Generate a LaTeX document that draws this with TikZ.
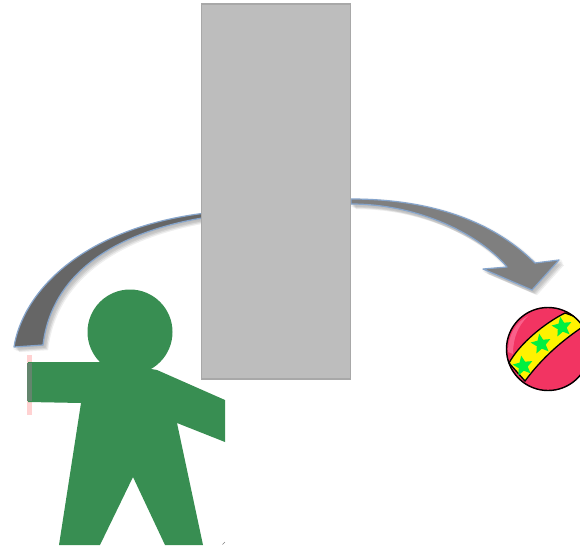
\documentclass[tikz,border=0pt]{standalone}
\usetikzlibrary{shapes.geometric}
\definecolor{green1}{HTML}{388E52}
\definecolor{rectfill}{HTML}{BDBDBD}
\definecolor{rectline}{HTML}{A8A8A8}
\definecolor{arrowL}{HTML}{666666}
\definecolor{arrowR}{HTML}{7F7F7F}
\definecolor{arrowline}{HTML}{86A5CC}
\definecolor{ballred}{HTML}{F23462}
\definecolor{ballhi}{HTML}{F9608A}
\definecolor{starg}{HTML}{00F040}
\tikzset{
  arrowedge/.style={draw=arrowline,line width=1.2pt,line join=round},
  starmark/.style={star,star points=5,star point ratio=2.2,fill=starg,draw=none,inner sep=0pt,outer sep=0pt,minimum size=21pt,rotate=10},
  softshadow/.style={fill=black,fill opacity=0.05,draw=black,draw opacity=0.03,line join=round}
}
\newcommand{\leftarc}{(14,347) .. controls (22,296) and (76,230) .. (202,213.5) -- (202,218)
  .. controls (120,232) and (52,270) .. (43,345) -- cycle}
\newcommand{\rightarc}{(351,199) .. controls (425,199) and (490,218) .. (535,263) -- (559,260) -- (532,290)
  -- (483,269) -- (507,267) .. controls (480,235) and (420,204) .. (351,204) -- cycle}
\begin{document}
\begin{tikzpicture}[x=1pt,y=-1pt]
\useasboundingbox (0,0) rectangle (580,548);
% shadows of the arcs
\foreach \d/\w in {1/4,2/3,3/2,4/1,5/0.4}{
  \begin{scope}[shift={(\d,\d)}]
    \path[softshadow,line width=\w pt] \leftarc;
    \path[softshadow,line width=\w pt] \rightarc;
  \end{scope}
}
% arcs
\path[arrowedge,fill=arrowL] \leftarc;
\path[arrowedge,fill=arrowR] \rightarc;
% tall rectangle
\node[draw=rectline,fill=rectfill,line width=1.2pt,outer sep=0pt,minimum width=149pt,minimum height=375pt,inner sep=0pt,anchor=north west] (wall) at (201.5,4) {};
% figure
\fill[pink!70!white] (27,355) rectangle (32,415);
\fill[green1] (130,332) circle (42.5);
\fill[green1] (28,362) -- (110,362) -- (157,370) -- (225,400) -- (225,442) -- (177,423)
  -- (203,545) -- (165,545) -- (133,477) -- (100,545) -- (59,545) -- (81,403) -- (28,402) -- cycle;
\fill[gray!60!green1] (27,363) rectangle (32,401);
\draw[gray,line width=0.6pt] (222.5,544.5) -- (225,542);
% ball
\begin{scope}
  \clip (548,349) circle (42);
  \fill[ballred] (506,307) rectangle (590,391);
  \fill[ballhi] (508,352) .. controls (508,335) and (516,322) .. (528,316) .. controls (518,326) and (513,338) .. (513,354) -- cycle;
  \path[fill=yellow,draw=black,line width=1.3pt]
    (509,363) .. controls (520,343) and (545,323) .. (565,313) -- (590,322)
    .. controls (562,340) and (542,358) .. (525,381) -- cycle;
\end{scope}
\node[starmark] (s1) at (523,366) {};
\node[starmark] (s2) at (541,344) {};
\node[starmark] (s3) at (562,327) {};
\draw[black,line width=1.4pt] (548,349) circle (41.5);
\end{tikzpicture}
\end{document}
